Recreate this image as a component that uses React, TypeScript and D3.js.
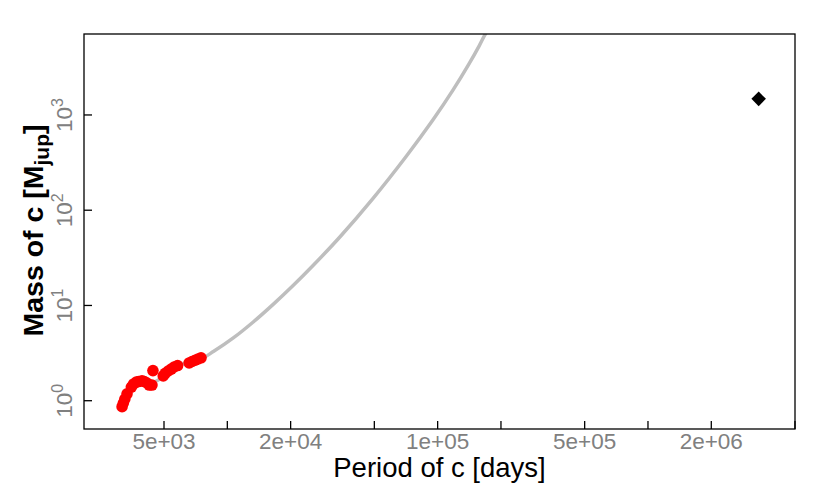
import React from "react";
import * as d3 from "d3";

// Gray model curve (period [days], mass [Mjup])
const curvePeriod = [4119, 4694, 5356, 6301, 7424, 8584, 10676, 13282, 16520, 20550, 25560, 34200, 49200, 70800, 94700, 117800, 141200, 157600, 167700, 174600];
const curveMass = [1.427, 1.65, 2.05, 2.49, 2.72, 3.28, 4.56, 6.71, 10.27, 16.18, 26.25, 52.0, 132.4, 366.6, 879.7, 1800, 3458, 5319, 6923, 7925];

// Red solution points
const redPeriod = [3160, 3204, 3256, 3336, 3497, 3585, 3692, 3785, 3929, 4030, 4150, 4256, 4383, 4430, 4958, 5066, 5236, 5409, 5586, 5803, 6584, 6800, 7030, 7260, 7500];
const redMass = [0.865, 0.946, 1.04, 1.18, 1.39, 1.5, 1.57, 1.59, 1.62, 1.59, 1.535, 1.46, 1.46, 2.07, 1.82, 1.94, 2.05, 2.15, 2.26, 2.34, 2.49, 2.58, 2.66, 2.74, 2.82];

// Black diamond
const diamondPeriod = [3.36e6];
const diamondMass = [1476];

const xTicks = [5e3, 1e4, 2e4, 5e4, 1e5, 2e5, 5e5, 1e6, 2e6, 5e6];
const xTickLabels = ["5e+03", "", "2e+04", "", "1e+05", "", "5e+05", "", "2e+06", ""];
const yTicks = [1, 10, 100, 1000];
const yTickExp = ["0", "1", "2", "3"];

const W = 830, H = 498;
const L = 84, R = 795, T = 34, B = 429;

export default function App() {
  const x = d3.scaleLog().domain([Math.pow(10, 3.3186), Math.pow(10, 6.699)]).range([L, R]);
  const y = d3.scaleLog().domain([Math.pow(10, -0.297), Math.pow(10, 3.85)]).range([B, T]);

  const line = d3.line<number>()
    .x((_, i) => x(curvePeriod[i]))
    .y((_, i) => y(curveMass[i]))
    .curve(d3.curveCatmullRom.alpha(0.5));

  const diamond = d3.symbol().type(d3.symbolDiamond2).size(135)() as string;

  const font = "'Liberation Sans', Arial, Helvetica, sans-serif";
  const gray = "#808080";

  return (
    <svg width={W} height={H} style={{ position: "absolute", left: 0, top: 0, background: "#fff" }} fontFamily={font}>
      <defs>
        <clipPath id="plotclip">
          <rect x={L} y={T} width={R - L} height={B - T} />
        </clipPath>
      </defs>
      <g clipPath="url(#plotclip)">
        <path d={line(curvePeriod) as string} fill="none" stroke="#BEBEBE" strokeWidth={3.5} />
        {redPeriod.map((p, i) => (
          <circle key={i} cx={x(p)} cy={y(redMass[i])} r={5.8} fill="#FF0000" />
        ))}
        {diamondPeriod.map((p, i) => (
          <path key={i} d={diamond} transform={`translate(${x(p)},${y(diamondMass[i])})`} fill="#000" />
        ))}
      </g>
      <rect x={L} y={T} width={R - L} height={B - T} fill="none" stroke="#000" strokeWidth={1.3} />
      {xTicks.map((t, i) => (
        <g key={i}>
          <line x1={x(t)} x2={x(t)} y1={B} y2={B - 8} stroke="#000" strokeWidth={1.3} />
          {xTickLabels[i] && (
            <text x={x(t)} y={449} textAnchor="middle" fontSize={22.5} fill={gray}>{xTickLabels[i]}</text>
          )}
        </g>
      ))}
      {yTicks.map((t, i) => (
        <g key={i}>
          <line x1={L} x2={L + 8} y1={y(t)} y2={y(t)} stroke="#000" strokeWidth={1.3} />
          <text transform={`translate(72,${y(t)}) rotate(-90)`} textAnchor="middle" fontSize={22.5} fill={gray}>
            10<tspan dy={-9} fontSize={16}>{yTickExp[i]}</tspan>
          </text>
        </g>
      ))}
      <text x={(L + R) / 2} y={477} textAnchor="middle" fontSize={27.5}>Period of c [days]</text>
      <text transform={`translate(43,${(T + B) / 2 - 1}) rotate(-90)`} textAnchor="middle" fontSize={28.5} fontWeight="bold">
        Mass of c [M<tspan dy={6} fontSize={21}>jup</tspan><tspan dy={-6}>]</tspan>
      </text>
    </svg>
  );
}
